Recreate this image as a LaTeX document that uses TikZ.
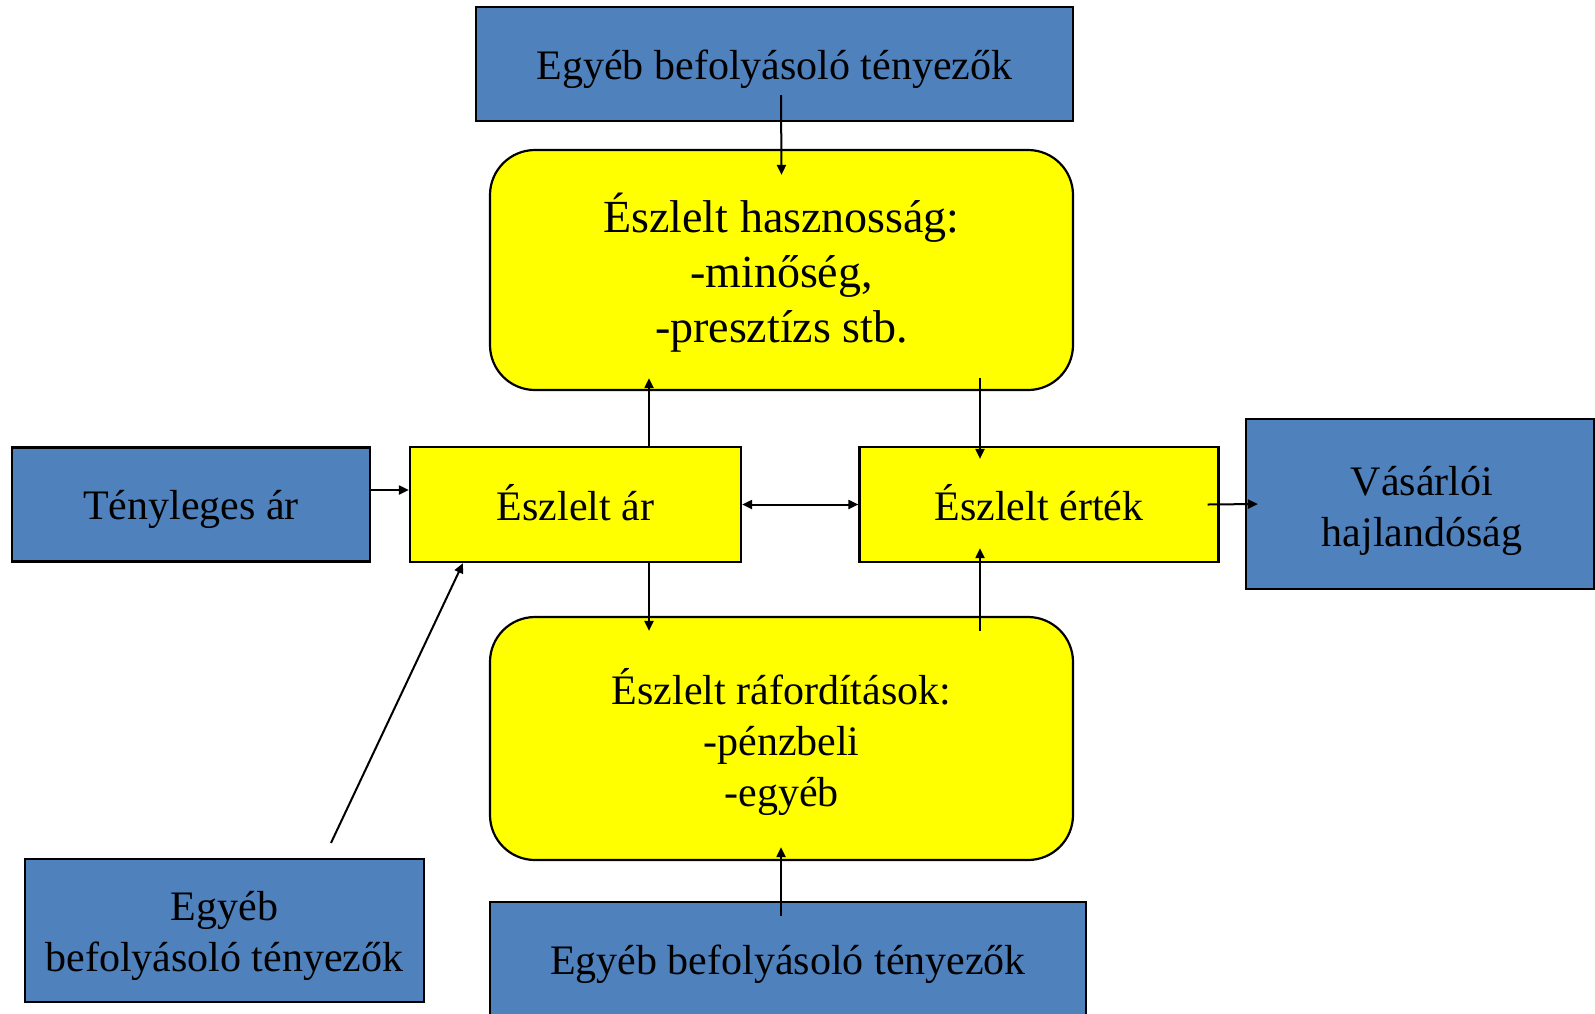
\documentclass[tikz,border=0pt]{standalone}
\usepackage{fontspec}
\setmainfont{Liberation Serif}
\usetikzlibrary{arrows.meta}
\definecolor{boxblue}{HTML}{4F81BD}
\definecolor{boxyellow}{HTML}{FFFF00}
\tikzset{
  base/.style={draw=black, line width=2.2pt, inner sep=0pt},
  bluebox/.style={base, fill=boxblue},
  yelbox/.style={base, fill=boxyellow},
  roundbox/.style={base, fill=boxyellow, rounded corners=45pt},
  txt/.style={inner sep=0pt, align=center, text=black, font=\fontsize{42}{51}\selectfont},
  bigtxt/.style={txt, font=\fontsize{46}{55}\selectfont},
  arr/.style={line width=2pt, -{Triangle[length=10pt,width=9pt]}},
  darr/.style={line width=2pt, {Triangle[length=10pt,width=9pt]}-{Triangle[length=10pt,width=9pt]}}
}
\begin{document}
\begin{tikzpicture}[x=1pt,y=-1pt]
\useasboundingbox (0,0) rectangle (1595,1013);
\clip (0,0) rectangle (1595,1013);
\fill[white] (0,0) rectangle (1595,1013);

% boxes
\node[bluebox, minimum width=597pt, minimum height=114pt] (topblue) at (774.5,64) {};
\node[roundbox, minimum width=583pt, minimum height=240pt] (topyel) at (781.5,270) {};
\node[bluebox, minimum width=358pt, minimum height=114pt] (teny) at (191,504.5) {};
\node[yelbox, minimum width=331pt, minimum height=115pt] (ar) at (575.5,504.5) {};
\node[yelbox, minimum width=359pt, minimum height=115pt] (ertek) at (1039,504.5) {};
\node[bluebox, minimum width=348pt, minimum height=170pt] (vas) at (1420,504) {};
\node[roundbox, minimum width=583pt, minimum height=243pt] (botyel) at (781.5,738.5) {};
\node[bluebox, minimum width=596pt, minimum height=122pt] (botblue) at (788,963) {};
\node[bluebox, minimum width=399pt, minimum height=143pt] (blbox) at (224.5,930.5) {};

% texts
\node[txt] (topblue-t) at ([yshift=-5pt]topblue.center) {Egyéb befolyásoló tényezők};
\node[bigtxt] (topyel-t) at ([yshift=-2.5pt]topyel.center) {Észlelt hasznosság:\\-minőség,\\-presztízs stb.};
\node[txt] (teny-t) at ([yshift=-5pt]teny.center) {Tényleges ár};
\node[txt] (ar-t) at ([yshift=2pt]ar.center) {Észlelt ár};
\node[txt] (ertek-t) at ([yshift=2pt]ertek.center) {Észlelt érték};
\node[txt] (vas-t) at ([xshift=2pt,yshift=-7pt]vas.center) {Vásárlói\\hajlandóság};
\node[txt] (botyel-t) at ([yshift=-3pt]botyel.center) {Észlelt ráfordítások:\\-pénzbeli\\-egyéb};
\node[txt] (botblue-t) at ([yshift=-1pt]botblue.center) {Egyéb befolyásoló tényezők};
\node[txt] (blbox-t) at ([yshift=-5pt]blbox.center) {Egyéb\\befolyásoló tényezők};

% connectors
\draw[arr] ([xshift=6.5pt,yshift=-31pt]topblue.center) -- ([yshift=-26pt]topyel.north);
\draw[arr] ([xshift=73.5pt]ar.north) -- ([xshift=-132.5pt,yshift=13pt]topyel.south);
\draw[arr] ([xshift=198.5pt,yshift=13pt]topyel.south) -- ([xshift=-59pt,yshift=-13pt]ertek.north);
\draw[arr] ([yshift=14.5pt]teny.east) -- ([yshift=14.5pt]ar.west);
\draw[darr] (ar.east) -- (ertek.west);
\draw[arr] ([xshift=-12pt]ertek.east) -- ([xshift=13pt]vas.west);
\draw[arr] ([xshift=73.5pt]ar.south) -- ([xshift=-132.5pt,yshift=-15pt]botyel.north);
\draw[arr] ([xshift=198.5pt,yshift=-15pt]botyel.north) -- ([xshift=-59pt,yshift=15pt]ertek.south);
\draw[arr] ([xshift=-7pt,yshift=-15pt]botblue.north) -- ([xshift=-0.5pt,yshift=14pt]botyel.south);
\draw[arr] ([xshift=106.5pt,yshift=15pt]blbox.north) -- ([xshift=-112.5pt]ar.south);
\end{tikzpicture}
\end{document}
